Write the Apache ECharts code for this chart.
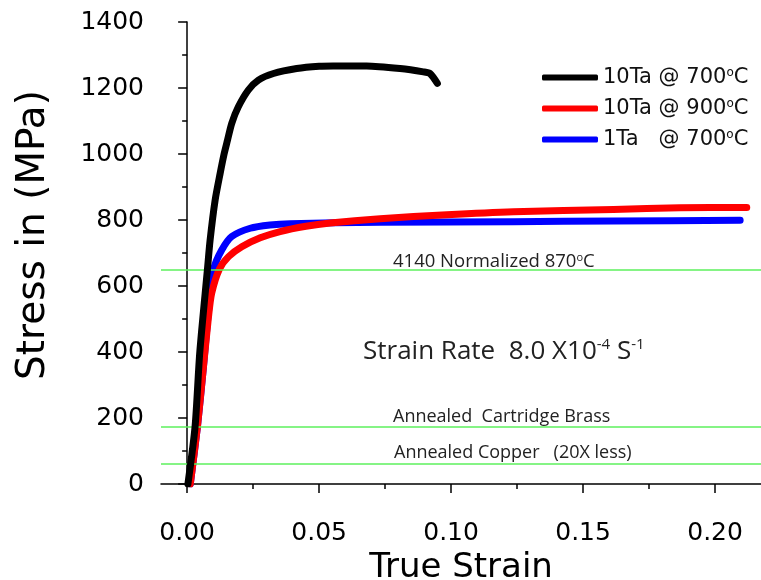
<!DOCTYPE html>
<html>
<head>
<meta charset="utf-8">
<script src="https://cdn.jsdelivr.net/npm/echarts@6/dist/echarts.min.js"></script>
<style>
  html, body { margin: 0; padding: 0; background: #fff; }
  #chart { width: 761px; height: 580px; }
</style>
</head>
<body>
<div id="chart"></div>
<script>
// series names
var names = ['10Ta @ 700°C', '10Ta @ 900°C', '1Ta   @ 700°C']

// 10Ta @ 700C  [strain, stress MPa]
var black700 = [
  [0.0003, 0], [0.003, 173], [0.0048, 400], [0.0077, 651], [0.0087, 739],
  [0.0106, 860], [0.0125, 941], [0.014, 1000], [0.0153, 1042], [0.0169, 1093],
  [0.0194, 1143], [0.0232, 1194], [0.027, 1224], [0.0327, 1244], [0.0415, 1259],
  [0.050, 1266], [0.0553, 1267], [0.068, 1267], [0.0807, 1259], [0.0895, 1249],
  [0.092, 1244], [0.0948, 1214]
]
// 10Ta @ 900C
var red900 = [
  [0.0012, 0], [0.0039, 173], [0.0062, 356], [0.0081, 507], [0.0093, 578],
  [0.0122, 651], [0.0157, 689], [0.0207, 719], [0.0277, 746], [0.0352, 765],
  [0.045, 781], [0.0542, 791], [0.0731, 804], [0.0984, 816], [0.1237, 825],
  [0.1615, 832], [0.1867, 837], [0.212, 838]
]
// 1Ta @ 700C
var blue700 = [
  [0.0012, 0], [0.0039, 173], [0.0062, 356], [0.0078, 500], [0.009, 590],
  [0.010, 651], [0.0131, 709], [0.0169, 750], [0.0239, 775], [0.0314, 785],
  [0.039, 789], [0.0731, 793], [0.1237, 795], [0.1615, 797], [0.2095, 799]
]

// reference material lines (MPa)
var refLevels = [650, 175, 60]
var xTicks = [0, 0.05, 0.10, 0.15, 0.20]
var xMinorTicks = [0.025, 0.075, 0.125, 0.175]

var legendText = {
  '10Ta @ 700°C': '{n|10Ta @ 700}{s|o}{n|C}',
  '10Ta @ 900°C': '{n|10Ta @ 900}{s|o}{n|C}',
  '1Ta   @ 700°C': '{n|1Ta   @ 700}{s|o}{n|C}'
}

var myChart = echarts.init(document.getElementById('chart'))
var labelFont = 'DejaVu Sans'
var noteFont = 'Open Sans'

function curve (name, data, color, z) {
  return {
    name: name,
    type: 'line',
    data: data,
    z: z,
    smooth: 0.25,
    showSymbol: false,
    symbol: 'none',
    lineStyle: { color: color, width: 7, cap: 'round', join: 'round' },
    itemStyle: { color: color }
  }
}

// green reference lines, own series so they stay under the curves
var refSeries = {
  name: 'ref',
  type: 'line',
  data: [],
  z: 2,
  silent: true,
  markLine: {
    silent: true,
    symbol: 'none',
    label: { show: false },
    lineStyle: { color: '#5cf05c', width: 1.6, type: 'solid', opacity: 1 },
    emphasis: { disabled: true },
    data: refLevels.map(function (v) { return { yAxis: v } })
  }
}

var option = {
  backgroundColor: '#fff',
  animation: false,
  grid: { left: 161, right: 0, top: 22, bottom: 96, outerBoundsMode: 'none' },
  legend: {
    orient: 'vertical',
    left: 537,
    top: 62,
    data: names,
    icon: 'roundRect',
    itemWidth: 56,
    itemHeight: 6,
    itemGap: 10,
    formatter: function (name) { return legendText[name] },
    textStyle: {
      color: '#111',
      rich: {
        n: { fontFamily: labelFont, fontSize: 21, lineHeight: 21, color: '#111' },
        s: { fontFamily: labelFont, fontSize: 12, lineHeight: 12, verticalAlign: 'top', color: '#111' }
      }
    }
  },
  xAxis: [
    {
      type: 'value',
      min: -0.0099,
      max: 0.2174,
      splitLine: { show: false },
      axisLine: { show: true, onZero: false, lineStyle: { color: '#000', width: 1.5 } },
      axisTick: { show: true, length: 9, inside: false, customValues: xTicks, lineStyle: { color: '#000', width: 1.5 } },
      axisLabel: {
        customValues: xTicks,
        margin: 37,
        fontFamily: labelFont,
        fontSize: 25,
        color: '#000',
        formatter: function (v) { return v.toFixed(2) }
      },
      name: 'True Strain',
      nameLocation: 'middle',
      nameGap: 63,
      nameTextStyle: { fontFamily: labelFont, fontSize: 34, color: '#000' }
    },
    {
      type: 'value',
      min: -0.0099,
      max: 0.2174,
      position: 'bottom',
      splitLine: { show: false },
      axisLine: { show: false },
      axisTick: { show: true, length: 5, customValues: xMinorTicks, lineStyle: { color: '#000', width: 1.5 } },
      axisLabel: { show: false }
    }
  ],
  yAxis: {
    type: 'value',
    min: 0,
    max: 1400,
    interval: 200,
    splitLine: { show: false },
    axisLine: { show: true, lineStyle: { color: '#000', width: 1.5 } },
    axisTick: { show: true, length: 9, lineStyle: { color: '#000', width: 1.5 } },
    minorTick: { show: true, splitNumber: 2, length: 5, lineStyle: { color: '#000', width: 1.5 } },
    axisLabel: {
      margin: 17, fontFamily: labelFont, fontSize: 25, color: '#000',
      formatter: function (v) { return String(v) }
    },
    name: 'Stress in (MPa)',
    nameLocation: 'middle',
    nameGap: 108,
    nameRotate: 90,
    nameTextStyle: { fontFamily: labelFont, fontSize: 39, color: '#000', padding: [0, 0, 0, 36] }
  },
  series: [
    curve(names[0], black700, '#000000', 5),
    curve(names[1], red900, '#ff0000', 4),
    curve(names[2], blue700, '#0000ff', 3),
    refSeries
  ],
  graphic: [
    {
      type: 'text', left: 393, top: 252, z: 10, silent: true,
      style: {
        text: '{n|4140 Normalized 870}{s|o}{n|C}',
        rich: {
          n: { fontFamily: noteFont, fontSize: 18.5, lineHeight: 19, fill: '#222' },
          s: { fontFamily: noteFont, fontSize: 11, lineHeight: 11, verticalAlign: 'top', fill: '#222' }
        }
      }
    },
    {
      type: 'text', left: 363, top: 337, z: 10, silent: true,
      style: {
        text: '{n|Strain Rate  8.0 X10}{s|-4}{n| S}{s|-1}',
        rich: {
          n: { fontFamily: noteFont, fontSize: 26, lineHeight: 30, fill: '#222' },
          s: { fontFamily: noteFont, fontSize: 15, lineHeight: 15, verticalAlign: 'top', fill: '#222' }
        }
      }
    },
    {
      type: 'text', left: 393, top: 407, z: 10, silent: true,
      style: { text: 'Annealed  Cartridge Brass', font: '18px "Open Sans"', lineHeight: 19, fill: '#222' }
    },
    {
      type: 'text', left: 394, top: 443, z: 10, silent: true,
      style: { text: 'Annealed Copper   (20X less)', font: '18px "Open Sans"', lineHeight: 19, fill: '#222' }
    }
  ]
}

myChart.setOption(option, true)
</script>
</body>
</html>
